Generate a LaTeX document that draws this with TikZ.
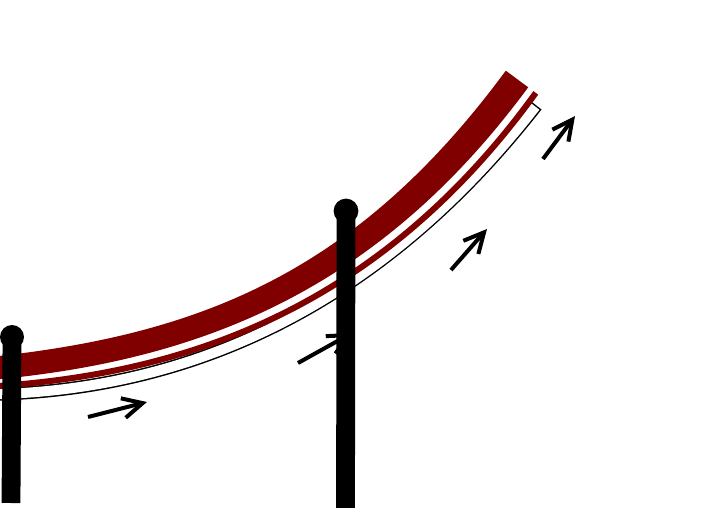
\documentclass[tikz,border=0pt]{standalone}
\usepackage{tikz}
\usetikzlibrary{arrows.meta}
\definecolor{rail}{HTML}{800000}

\begin{document}
\begin{tikzpicture}[x=0.25mm,y=-0.25mm,
    band/.style={fill=rail},
    strip/.style={draw=rail,line width=1.5mm},
    post/.style={line width=4.7mm},
    knob/.style={fill=black},
    flow/.style={line width=1mm,-{Straight Barb[length=5mm,width=5mm]}}]
    \useasboundingbox (0,0) rectangle (705,508);
    \clip (0,0) rectangle (705,508);

    \coordinate (p1top) at (12,337);
    \coordinate (p1foot) at (11,503);
    \coordinate (p2top) at (346,211);
    \coordinate (p2foot) at (345.5,515);

    \coordinate (a1s) at (88,417);  \coordinate (a1e) at (147,402);
    \coordinate (a2s) at (298,363); \coordinate (a2e) at (352,333);
    \coordinate (a3s) at (451,270); \coordinate (a3e) at (487,229);
    \coordinate (a4s) at (543,159); \coordinate (a4e) at (575,116);

    \draw[line width=3.25mm] (-7.1,394.3) .. controls (203.4,389.5) and (387.9,296) .. (536.4,105.5);
    \draw[white,line width=2.5mm,shorten >=0.375mm] (-7.1,394.3) .. controls (203.4,389.5) and (387.9,296) .. (536.4,105.5);
    \draw[strip] (-8.2,386.4) .. controls (202.6,373.4) and (387.9,297) .. (535.8,92.9);
    \fill[band] (-11.1,357.1) .. controls (198.8,335.1) and (356.2,273.5) .. (505.8,70.7)
        -- (528.2,87.3) .. controls (378.6,290.1) and (201.3,360.9) .. (-8.9,379.9) -- cycle;

    \draw[flow] (a1s) -- (a1e);
    \draw[flow] (a2s) -- (a2e);
    \draw[flow] (a3s) -- (a3e);
    \draw[flow] (a4s) -- (a4e);

    \draw[post] (p1top) -- (p1foot);
    \fill[knob] (p1top) circle[radius=3mm];
    \draw[post] (p2top) -- (p2foot);
    \fill[knob] (p2top) circle[radius=3.1mm];
\end{tikzpicture}
\end{document}
